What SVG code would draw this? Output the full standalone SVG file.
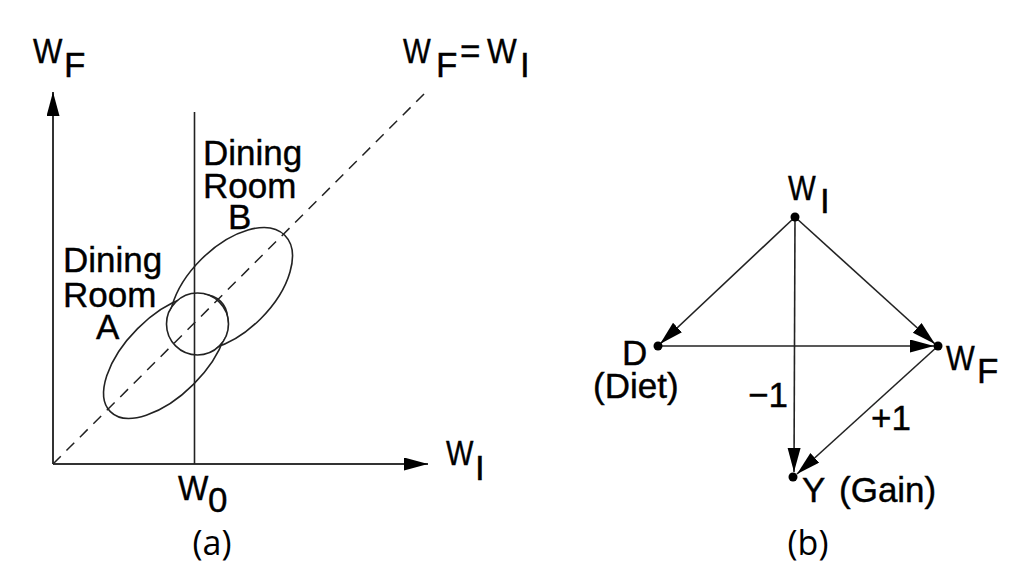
<svg xmlns="http://www.w3.org/2000/svg" width="1024" height="580" viewBox="0 0 1024 580">
<style>
text{font-family:"Liberation Sans",Arial,sans-serif;font-size:35px;fill:#000;stroke:#000;stroke-width:0.4}
.cap{font-family:"Open Sans","Liberation Sans",sans-serif;font-size:34px;stroke:none}
.ln{stroke:#222;stroke-width:1.6;fill:none}
.ax{stroke:#333;stroke-width:2;fill:none}
.dash{stroke:#222;stroke-width:1.5;stroke-dasharray:11 8;fill:none}
.dot{fill:#000}
</style>
<defs>
<marker id="ah" markerUnits="userSpaceOnUse" markerWidth="24" markerHeight="14" refX="24" refY="6.5" orient="auto">
<path d="M0,0 L24,6.5 L0,13 z" fill="#000"/>
</marker>
<mask id="hole" maskUnits="userSpaceOnUse" x="0" y="0" width="1024" height="580">
<rect width="1024" height="580" fill="#fff"/>
<circle cx="197.5" cy="324" r="30.5" fill="#000"/>
</mask>
</defs>
<rect width="1024" height="580" fill="#fff"/>

<g id="panel-a">
<g id="axes">
<line class="ax" x1="53" y1="464" x2="53" y2="92" marker-end="url(#ah)"/>
<line class="ax" x1="53" y1="464" x2="428" y2="464" marker-end="url(#ah)"/>
<line class="ln" x1="194.5" y1="112" x2="194.5" y2="464"/>
<line class="dash" x1="53" y1="464" x2="425" y2="93"/>
</g>
<g id="ellipses">
<g mask="url(#hole)">
<ellipse class="ln" cx="165.5" cy="356.5" rx="78" ry="39.5" transform="rotate(-45 165.5 356.5)"/>
<ellipse class="ln" cx="231" cy="289" rx="76" ry="42" transform="rotate(-45 231 289)"/>
</g>
<circle class="ln" cx="197.5" cy="324" r="31"/>
</g>
<g id="labels-a">
<text transform="translate(33,63) scale(0.89,1)">W</text><text x="64" y="77">F</text>
<text transform="translate(403,63) scale(0.84,1)">W</text><text x="436" y="77">F</text>
<text x="460" y="63">=</text>
<text transform="translate(487,63) scale(0.9,1)">W</text><text x="520" y="77">I</text>
<text x="203" y="165">Dining</text>
<text x="203" y="198">Room</text>
<text x="228" y="229">B</text>
<text x="63" y="272">Dining</text>
<text x="63" y="307">Room</text>
<text x="96" y="339">A</text>
<text transform="translate(446,465) scale(0.83,1)">W</text><text x="475" y="480">I</text>
<text transform="translate(178,500) scale(0.92,1)">W</text><text x="208" y="512">0</text>
</g>
<text class="cap" x="212" y="555" text-anchor="middle">(a)</text>
</g>

<g id="panel-b">
<g id="connectors">
<line class="ln" x1="795" y1="217" x2="660" y2="344" marker-end="url(#ah)"/>
<line class="ln" x1="795" y1="217" x2="935" y2="344" marker-end="url(#ah)"/>
<line class="ln" x1="658" y1="346" x2="934" y2="346" marker-end="url(#ah)"/>
<line class="ln" x1="795" y1="217" x2="794" y2="472" marker-end="url(#ah)"/>
<line class="ln" x1="938" y1="346" x2="797" y2="474" marker-end="url(#ah)"/>
</g>
<g id="node-WI">
<circle class="dot" cx="795" cy="217" r="4.5"/>
<text transform="translate(788,200) scale(0.84,1)">W</text><text x="820" y="213">I</text>
</g>
<g id="node-D">
<circle class="dot" cx="658" cy="346" r="4.5"/>
<text x="622" y="365">D</text>
<text x="593" y="398">(Diet)</text>
</g>
<g id="node-WF">
<circle class="dot" cx="938" cy="346" r="4.5"/>
<text transform="translate(946,370) scale(0.87,1)">W</text><text x="977" y="383">F</text>
</g>
<g id="node-Y">
<circle class="dot" cx="793" cy="477" r="4.5"/>
<text x="802" y="502">Y</text>
<text x="839" y="502">(Gain)</text>
</g>
<g id="edge-labels">
<text x="748" y="407">−1</text>
<text x="871" y="430">+1</text>
</g>
<text class="cap" x="808" y="555" text-anchor="middle">(b)</text>
</g>
</svg>
